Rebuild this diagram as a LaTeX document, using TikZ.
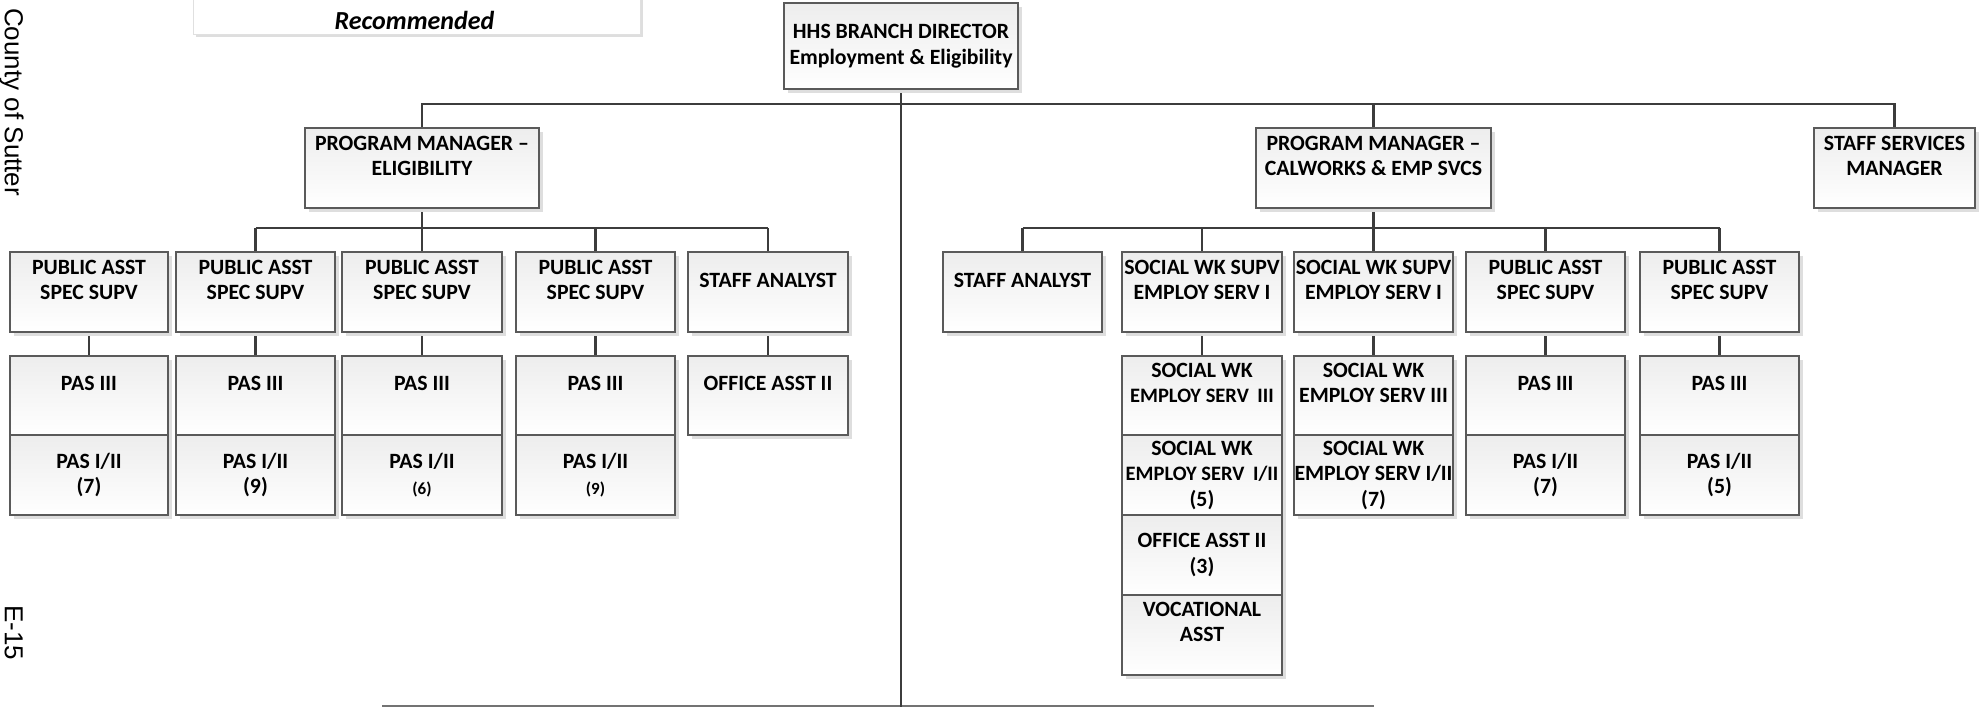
\documentclass[tikz,border=0pt]{standalone}
\usepackage{fontspec}
\setmainfont{Carlito}
\newfontfamily\sidefont{Liberation Sans}
\usetikzlibrary{shadows,backgrounds}

\definecolor{edgegray}{HTML}{5A5A5A}
\definecolor{linkgray}{HTML}{3C3C3C}
\definecolor{shadowgray}{HTML}{DEDEDE}
\definecolor{topgray}{HTML}{EDEDED}

\tikzset{
  orgbox/.style={draw=edgegray, line width=1.3pt, top color=topgray, bottom color=white,
    inner sep=0pt, outer sep=0pt,
    general shadow={fill=shadowgray, shadow xshift=4pt, shadow yshift=-4pt}},
  boxtext/.style={font=\fontsize{21.8}{25.5}\selectfont\bfseries, align=center, inner sep=0pt},
  link/.style={draw=linkgray, line width=2.6pt},
  baseline rule/.style={draw=black!55, line width=1.8pt},
  sidetext/.style={font=\sidefont\fontsize{26}{30}\selectfont, rotate=-90, anchor=base west, inner sep=0pt},
}

% \orgunit{name}{x1}{y1}{x2}{y2}{text offset from top}{text}
\newcommand\orgunit[7]{%
  \node[orgbox, minimum width={(#4)-(#2)}, minimum height={(#5)-(#3)}] (#1)
    at ({((#2)+(#4))/2},{((#3)+(#5))/2}) {};
  \node[boxtext] (#1-t) at ([yshift=-#6pt]#1.north) {#7};
}
% slightly condensed line with a wider gap before the grade
\newcommand\gradeline[2]{{\fontsize{20.5}{25.5}\selectfont #1\hspace{4pt} #2}}

\begin{document}
\begin{tikzpicture}[x=1pt,y=-1pt]
\useasboundingbox (0,0) rectangle (1984,707);

% page margin texts
\node[sidetext] (county) at (5,8) {County of Sutter};
\node[sidetext] (pageno) at (5,605) {E-15};

% status banner
\node[draw=black!12, line width=1pt, fill=white, minimum width=447, minimum height=42,
  inner sep=0pt, general shadow={fill=shadowgray, shadow xshift=3pt, shadow yshift=-3pt}]
  (banner) at (416.5,13) {};
\node[font=\fontsize{26}{30}\selectfont\bfseries\itshape, inner sep=0pt] (banner-t) at (414.5,20) {Recommended};

% level 1
\orgunit{dir}{784}{3}{1018}{89}{43}{HHS BRANCH DIRECTOR\\Employment \& Eligibility}

% level 2
\orgunit{pme}{305}{128}{539}{208}{28}{PROGRAM MANAGER –\\ELIGIBILITY}
\orgunit{pmc}{1256}{128}{1491}{208}{28}{PROGRAM MANAGER –\\CALWORKS \& EMP SVCS}
\orgunit{ssm}{1814}{128}{1975}{208}{28}{STAFF SERVICES\\MANAGER}

% level 3, eligibility side
\orgunit{la}{10}{252}{168}{332}{28}{PUBLIC ASST\\SPEC SUPV}
\orgunit{lb}{176}{252}{335}{332}{28}{PUBLIC ASST\\SPEC SUPV}
\orgunit{lc}{342}{252}{502}{332}{28}{PUBLIC ASST\\SPEC SUPV}
\orgunit{ld}{516}{252}{675}{332}{28}{PUBLIC ASST\\SPEC SUPV}
\orgunit{le}{688}{252}{848}{332}{28}{STAFF ANALYST}

% level 3, CalWorks side
\orgunit{ra}{943}{252}{1102}{332}{28}{STAFF ANALYST}
\orgunit{rb}{1122}{252}{1282}{332}{28}{SOCIAL WK SUPV\\EMPLOY SERV I}
\orgunit{rc}{1294}{252}{1453}{332}{28}{SOCIAL WK SUPV\\EMPLOY SERV I}
\orgunit{rd}{1466}{252}{1625}{332}{28}{PUBLIC ASST\\SPEC SUPV}
\orgunit{re}{1640}{252}{1799}{332}{28}{PUBLIC ASST\\SPEC SUPV}

% staff stacks
\orgunit{la1}{10}{356}{168}{435}{27}{PAS III}
\orgunit{la2}{10}{435}{168}{515}{40}{PAS I/II\\(7)}
\orgunit{lb1}{176}{356}{335}{435}{27}{PAS III}
\orgunit{lb2}{176}{435}{335}{515}{40}{PAS I/II\\(9)}
\orgunit{lc1}{342}{356}{502}{435}{27}{PAS III}
\orgunit{lc2}{342}{435}{502}{515}{40}{PAS I/II\\{\fontsize{17}{20}\selectfont(6)}}
\orgunit{ld1}{516}{356}{675}{435}{27}{PAS III}
\orgunit{ld2}{516}{435}{675}{515}{40}{PAS I/II\\{\fontsize{17}{20}\selectfont(9)}}
\orgunit{le1}{688}{356}{848}{435}{27}{OFFICE ASST II}

\orgunit{rb1}{1122}{356}{1282}{435}{27}{SOCIAL WK\\\gradeline{EMPLOY SERV}{III}}
\orgunit{rb2}{1122}{435}{1282}{515}{40}{SOCIAL WK\\\gradeline{EMPLOY SERV}{I/II}\\(5)}
\orgunit{rb3}{1122}{515}{1282}{595}{40}{OFFICE ASST II\\(3)}
\orgunit{rb4}{1122}{595}{1282}{675}{27}{VOCATIONAL\\ASST}
\orgunit{rc1}{1294}{356}{1453}{435}{27}{SOCIAL WK\\EMPLOY SERV III}
\orgunit{rc2}{1294}{435}{1453}{515}{40}{SOCIAL WK\\EMPLOY SERV I/II\\(7)}
\orgunit{rd1}{1466}{356}{1625}{435}{27}{PAS III}
\orgunit{rd2}{1466}{435}{1625}{515}{40}{PAS I/II\\(7)}
\orgunit{re1}{1640}{356}{1799}{435}{27}{PAS III}
\orgunit{re2}{1640}{435}{1799}{515}{40}{PAS I/II\\(5)}

% bus levels and free line ends
\coordinate (busA) at (0,104);
\coordinate (busB) at (0,228);
\coordinate (trunkEnd) at (901,707);
\coordinate (footL) at (382,706);
\coordinate (footR) at (1374,706);

\begin{scope}[on background layer]
  \draw[baseline rule] (footL) -- (footR);
  \draw[link] (dir.south) -- (trunkEnd);
  \draw[link] (pme.north) -- (pme.north |- busA) -- (ssm.north |- busA) -- (ssm.north);
  \draw[link] (pmc.north) -- (pmc.north |- busA);
  % eligibility branch
  \draw[link] (pme.south) -- (pme.south |- busB);
  \draw[link] (lb.north |- busB) -- (le.north |- busB);
  \foreach \n in {lb,lc,ld,le} \draw[link] (\n.north) -- (\n.north |- busB);
  % CalWorks branch
  \draw[link] (pmc.south) -- (pmc.south |- busB);
  \draw[link] (ra.north |- busB) -- (re.north |- busB);
  \foreach \n in {ra,rb,rc,rd,re} \draw[link] (\n.north) -- (\n.north |- busB);
  % supervisors to their staff
  \foreach \n in {la,lb,lc,ld,le,rb,rc,rd,re} \draw[link] (\n.south) -- (\n1.north);
\end{scope}
\end{tikzpicture}
\end{document}
